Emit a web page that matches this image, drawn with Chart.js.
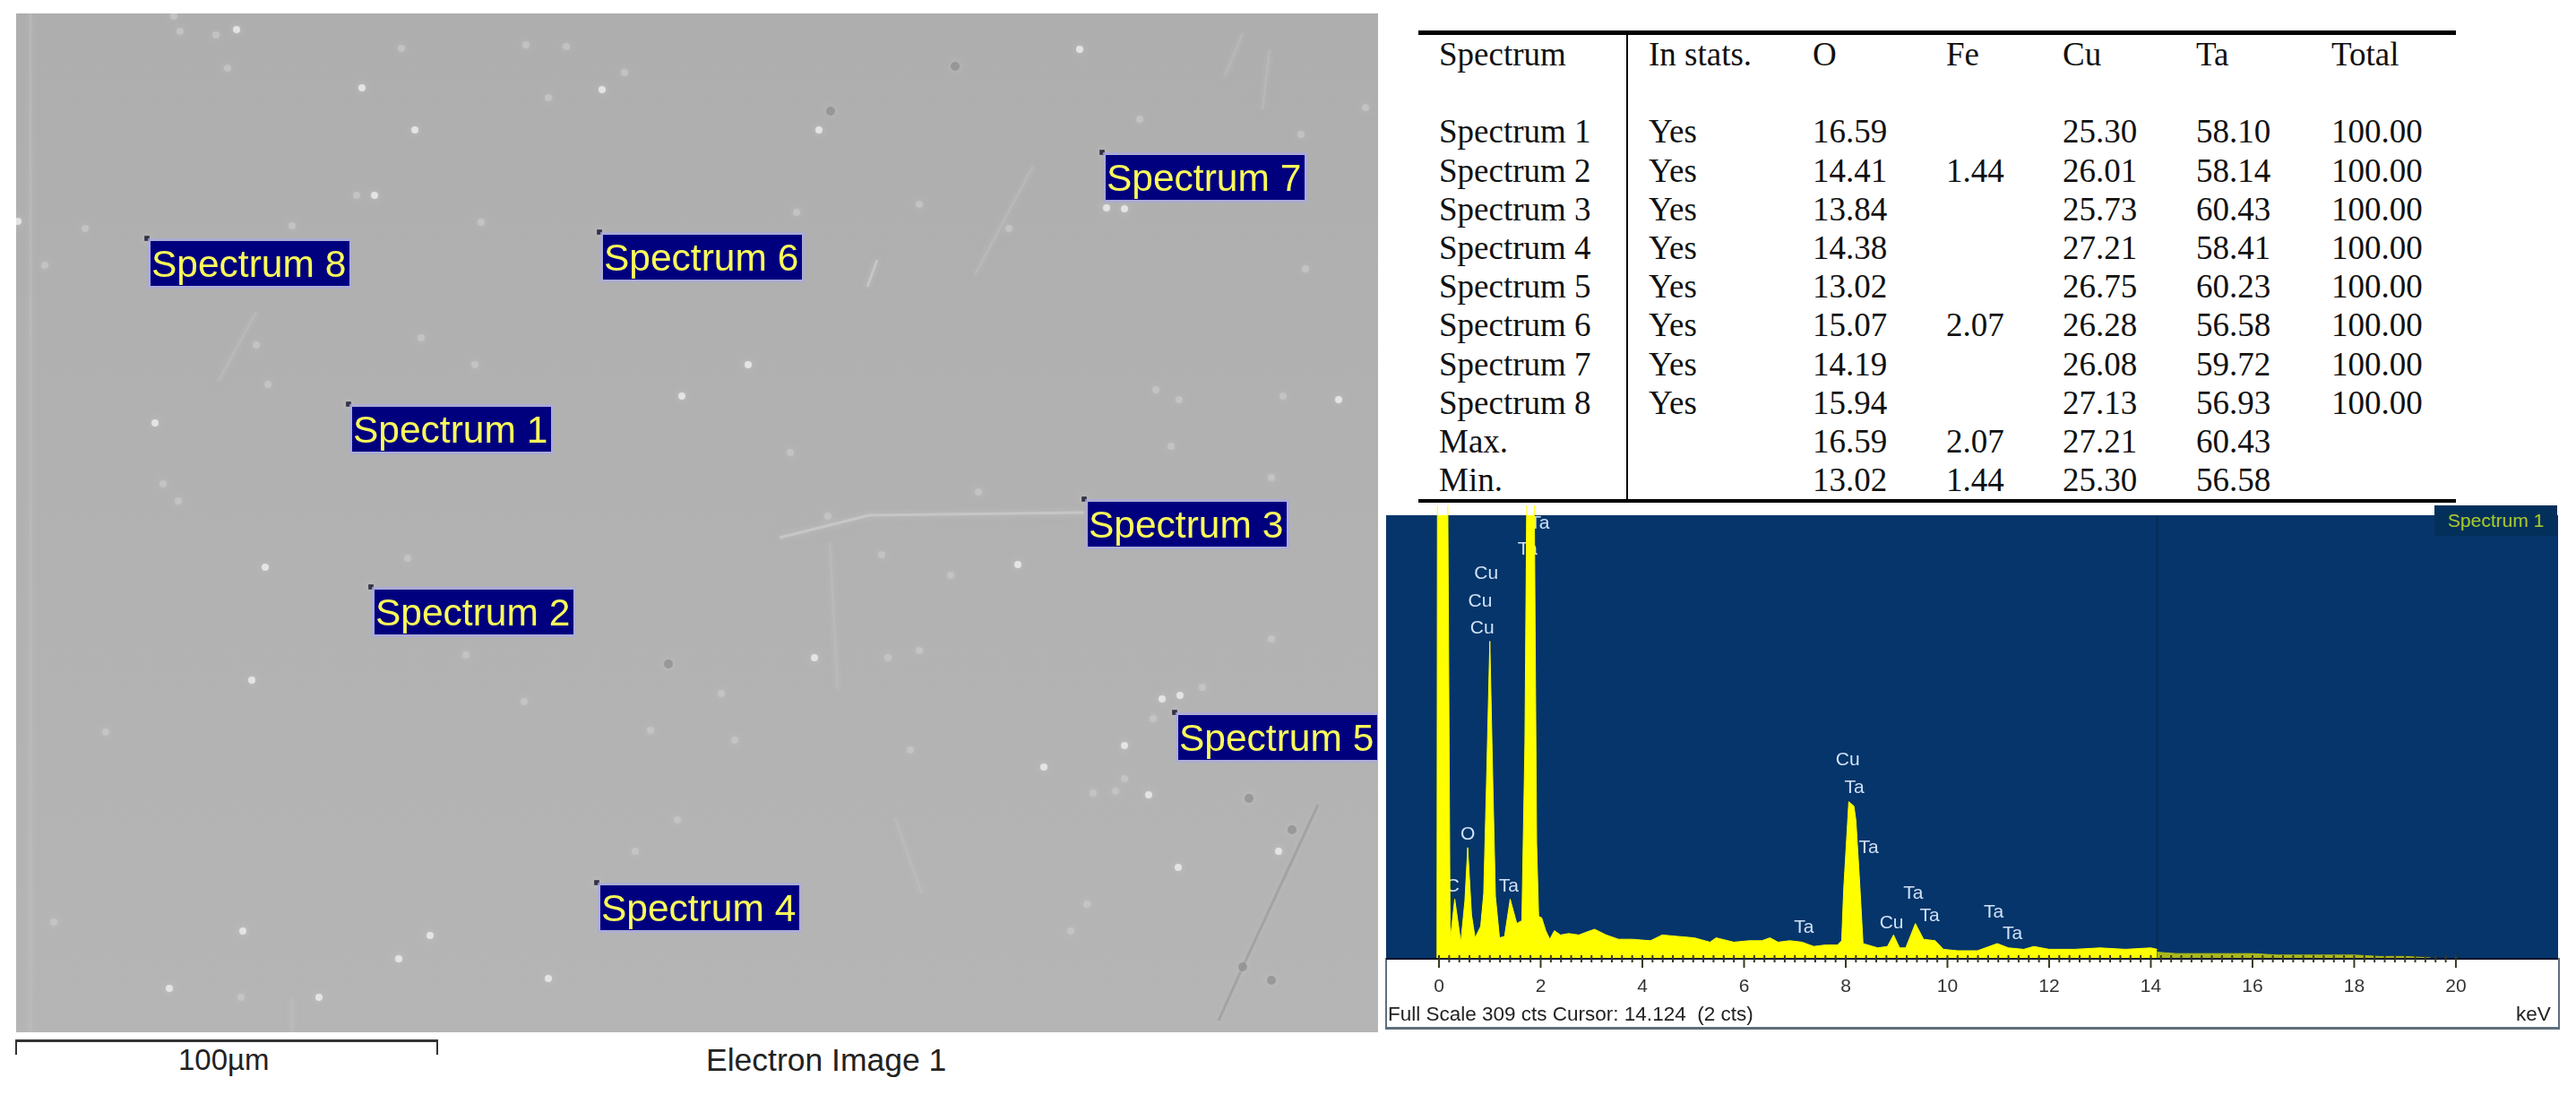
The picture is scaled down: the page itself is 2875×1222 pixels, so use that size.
<!DOCTYPE html>
<html>
<head>
<meta charset="utf-8">
<title>EDS spectrum</title>
<script src="https://cdn.jsdelivr.net/npm/chart.js@4"></script>
<style>
  html, body { margin: 0; padding: 0; background: #fff; }
  body { width: 2875px; height: 1222px; position: relative; overflow: hidden; font-family: "Liberation Sans", sans-serif; }
  .abs { position: absolute; }
  .txt { position: absolute; white-space: pre; color: #222; line-height: 1; }
  #imageWrap { left: 18px; top: 15px; width: 1520px; height: 1137px; }
  #specWrap { left: 1547px; top: 550px; width: 1308px; height: 600px; }
  #specFrame { left: 1546px; top: 1069px; width: 1307px; height: 77px; border: solid #5f6f7d; border-width: 0 2px 3px 2px; }
  #specTag { left: 2717px; top: 564px; width: 137px; height: 34px; background: #03305a; color: #a9c82a; font-size: 21px; line-height: 34px; text-align: center; }
  #dataTable { position: absolute; left: 1583px; top: 34px; width: 1158px; border-collapse: collapse; table-layout: fixed;
    font-family: "Liberation Serif", serif; font-size: 37px; color: #111; border-top: 5px solid #000; border-bottom: 4px solid #000; }
  #dataTable td { padding: 0; height: 43.2px; line-height: 43.2px; white-space: pre; }
  #dataTable td:first-child { padding-left: 23px; border-right: 2px solid #000; }
  #dataTable td:nth-child(2) { padding-left: 23px; }
</style>
</head>
<body>
<div class="abs" id="imageWrap"><canvas id="imageChart" width="1520" height="1137"></canvas></div>

<div class="abs" style="left:17px;top:1160px;width:468px;height:14px;border:solid #333;border-width:3px 2px 0 2px;"></div>
<div class="txt" style="left:199px;top:1166px;font-size:33px;">100µm</div>
<div class="txt" style="left:788px;top:1166px;font-size:35.5px;">Electron Image 1</div>

<table id="dataTable"></table>

<div class="abs" id="specFrame"></div>
<div class="abs" id="specWrap"><canvas id="specChart" width="1308" height="600"></canvas></div>
<div class="abs" id="specTag">Spectrum 1</div>
<div class="txt" style="left:1549px;top:1121px;font-size:22.5px;">Full Scale 309 cts Cursor: 14.124  (2 cts)</div>
<div class="txt" style="left:2808px;top:1121px;font-size:22.5px;">keV</div>

<script>
// composition table
const columnNames = ['Spectrum', 'In stats.', 'O', 'Fe', 'Cu', 'Ta', 'Total'];
const rowNames = ['Spectrum 1', 'Spectrum 2', 'Spectrum 3', 'Spectrum 4', 'Spectrum 5', 'Spectrum 6', 'Spectrum 7', 'Spectrum 8', 'Max.', 'Min.'];
const inStats = ['Yes', 'Yes', 'Yes', 'Yes', 'Yes', 'Yes', 'Yes', 'Yes', '', ''];
const oxygen = ['16.59', '14.41', '13.84', '14.38', '13.02', '15.07', '14.19', '15.94', '16.59', '13.02'];
const iron = ['', '1.44', '', '', '', '2.07', '', '', '2.07', '1.44'];
const copper = ['25.30', '26.01', '25.73', '27.21', '26.75', '26.28', '26.08', '27.13', '27.21', '25.30'];
const tantalum = ['58.10', '58.14', '60.43', '58.41', '60.23', '56.58', '59.72', '56.93', '60.43', '56.58'];
const totals = ['100.00', '100.00', '100.00', '100.00', '100.00', '100.00', '100.00', '100.00', '', ''];
const columnWidths = [233, 207, 149, 130, 149, 151, 139];

// spectrum trace (keV, counts), up to the cursor
const energy = [-0.04, -0.03, 0.17, 0.22, 0.31, 0.43, 0.51, 0.565, 0.64, 0.71, 0.82, 0.88, 0.94, 1.0, 1.06, 1.11, 1.19, 1.29, 1.4, 1.53, 1.63, 1.69, 1.73, 1.87, 1.92, 1.96, 2.02, 2.1, 2.18, 2.27, 2.39, 2.55, 2.75, 2.9, 3.06, 3.29, 3.53, 3.8, 4.16, 4.39, 4.7, 5.02, 5.33, 5.45, 5.8, 6.1, 6.35, 6.51, 6.67, 6.9, 7.14, 7.37, 7.6, 7.84, 7.92, 7.96, 8.06, 8.16, 8.2, 8.27, 8.34, 8.63, 8.82, 8.94, 9.06, 9.18, 9.37, 9.53, 9.76, 9.92, 10.2, 10.59, 10.98, 11.2, 11.5, 11.7, 12, 12.5, 13, 13.5, 14, 14.124];
const counts = [0, 340, 340, 12, 41, 11, 40, 77, 30, 14, 22, 45, 130, 221, 120, 43, 14, 15, 41, 24, 26, 150, 340, 340, 80, 29, 28, 19, 13, 19, 16, 17, 16, 18, 20, 16, 13, 13, 12, 16, 15, 14, 11, 14, 11, 12, 12, 14, 11, 12, 11, 8, 9, 9, 12, 48, 109, 106, 96, 55, 10, 7, 8, 16, 7, 7, 24, 13, 12, 6, 5, 5, 10, 7, 6, 8, 6, 6, 7, 6, 7, 6];
const tailEnergy = [14.124, 14.5, 15, 15.5, 16, 16.5, 17, 17.5, 18, 18.5, 19, 19.5];
const tailCounts = [4, 3, 3, 3, 3, 2, 2, 2, 2, 1, 1, 0];
const cursorEnergy = 14.124;
const xTickLabels = [0, 2, 4, 6, 8, 10, 12, 14, 16, 18, 20];
const ticksPerKev = 5;

// element labels on the peaks
const peakNames = ['Ta', 'Ta', 'Cu', 'Cu', 'Cu', 'O', 'C', 'Ta', 'Ta', 'Cu', 'Ta', 'Ta', 'Ta', 'Ta', 'Cu', 'Ta', 'Ta'];
const peakEnergy = [1.98, 1.74, 0.93, 0.81, 0.85, 0.565, 0.27, 1.37, 7.18, 8.04, 8.17, 8.45, 9.33, 9.65, 8.9, 10.91, 11.28];
const peakHeight = [303, 285, 268, 249, 230, 86, 50, 50, 21, 138, 119, 77, 45, 29, 24, 32, 17];

// micrograph, in picture pixels
const siteNames = ['Spectrum 1', 'Spectrum 2', 'Spectrum 3', 'Spectrum 4', 'Spectrum 5', 'Spectrum 6', 'Spectrum 7', 'Spectrum 8'];
const siteX = [389, 414, 1210, 666, 1311, 669, 1230, 164];
const siteY = [451, 655, 557, 985, 795, 259, 170, 266];
const brightX = [264, 463, 418, 20, 761, 173, 914, 835, 1235, 1255, 296, 281, 271, 480, 445, 189, 356, 612, 1136, 909, 1317, 1297, 1255, 1165, 1282, 1315, 1427, 1494, 404, 672, 1205];
const brightY = [33, 145, 218, 247, 442, 472, 145, 407, 232, 233, 633, 759, 1039, 1044, 1070, 1103, 1113, 1092, 630, 734, 776, 780, 832, 856, 887, 968, 950, 446, 98, 100, 55];
const speckX = [194, 201, 241, 254, 587, 632, 448, 398, 697, 612, 537, 95, 326, 50, 286, 530, 299, 182, 199, 470, 1272, 1524, 1452, 889, 1026, 1126, 1457, 1290, 1316, 1432, 882, 1307, 1419, 1092, 924, 455, 585, 520, 118, 756, 709, 726, 269, 60, 1061, 984, 1026, 991, 1419, 1342, 1287, 1016, 820, 805, 1255, 1220, 1245, 1213, 1195];
const speckY = [18, 35, 39, 76, 50, 52, 54, 218, 81, 109, 248, 255, 252, 296, 385, 407, 429, 540, 559, 377, 133, 120, 150, 237, 228, 255, 300, 435, 446, 442, 505, 498, 533, 549, 576, 623, 783, 731, 817, 915, 950, 815, 1113, 1029, 642, 619, 726, 734, 713, 767, 802, 837, 826, 774, 869, 885, 883, 1009, 1039];
const darkX = [1066, 927, 746, 1442, 1387, 1394, 1419];
const darkY = [74, 124, 741, 926, 1079, 891, 1094];
const brightScratches = [
  [[870, 600], [970, 575], [1210, 572]],
  [[979, 290], [968, 320]]
];
const faintScratches = [
  [[34, 15], [34, 1152]],
  [[1417, 55], [1409, 122]],
  [[1387, 37], [1367, 85]],
  [[286, 348], [244, 425]],
  [[999, 913], [1029, 998]],
  [[926, 605], [935, 770]],
  [[326, 1113], [326, 1152]],
  [[1153, 185], [1088, 307]]
];
const darkScratches = [
  [[1471, 898], [1387, 1079], [1360, 1139]]
];

// table
const table = document.getElementById('dataTable');
const colgroup = document.createElement('colgroup');
columnWidths.forEach(w => {
  const col = document.createElement('col');
  col.style.width = w + 'px';
  colgroup.appendChild(col);
});
table.appendChild(colgroup);

function addRow(cells) {
  const tr = document.createElement('tr');
  cells.forEach(text => {
    const td = document.createElement('td');
    td.textContent = text;
    tr.appendChild(td);
  });
  table.appendChild(tr);
}
addRow(columnNames);
addRow(columnNames.map(() => ''));
rowNames.forEach((name, i) => {
  addRow([name, inStats[i], oxygen[i], iron[i], copper[i], tantalum[i], totals[i]]);
});

function pairs(xs, ys) {
  return xs.map((x, i) => ({ x: x, y: ys[i] }));
}

function scratchSet(points, color, width) {
  return {
    data: points.map(p => ({ x: p[0], y: p[1] })),
    showLine: true,
    borderColor: color,
    borderWidth: width,
    pointRadius: 0
  };
}

const imagePlugin = {
  id: 'imagePlugin',
  beforeDatasetsDraw(chart) {
    const { ctx, chartArea } = chart;
    const shade = ctx.createLinearGradient(0, chartArea.top, 0, chartArea.bottom);
    shade.addColorStop(0, '#aeaeae');
    shade.addColorStop(1, '#b5b5b5');
    ctx.fillStyle = shade;
    ctx.fillRect(chartArea.left, chartArea.top, chartArea.width, chartArea.height);
    // the specks in the micrograph are soft, not crisp
    ctx.shadowColor = 'rgba(205,205,205,0.8)';
    ctx.shadowBlur = 7;
  },
  afterDatasetsDraw(chart) {
    const { ctx, scales } = chart;
    ctx.shadowBlur = 0;
    ctx.shadowColor = 'rgba(0,0,0,0)';
    ctx.save();
    ctx.font = '42.5px "Liberation Sans"';
    ctx.textBaseline = 'middle';
    siteNames.forEach((name, i) => {
      const px = scales.x.getPixelForValue(siteX[i]) + 4;
      const py = scales.y.getPixelForValue(siteY[i]) + 3;
      ctx.fillStyle = 'rgba(170,170,225,0.75)';
      ctx.fillRect(px - 3, py - 3, 228, 56);
      ctx.fillStyle = '#00007f';
      ctx.fillRect(px, py, 222, 50);
      ctx.fillStyle = '#fbfb5a';
      ctx.fillText(name, px + 1, py + 28);
    });
    ctx.restore();
  }
};

new Chart(document.getElementById('imageChart'), {
  type: 'scatter',
  plugins: [imagePlugin],
  data: {
    datasets: [
      { data: pairs(siteX, siteY), pointStyle: 'rect', pointRadius: 4, backgroundColor: '#333344', borderWidth: 0 },
      { data: pairs(brightX, brightY), pointRadius: 4, backgroundColor: 'rgba(235,235,235,0.85)', borderWidth: 0 },
      { data: pairs(speckX, speckY), pointRadius: 4, backgroundColor: 'rgba(205,205,205,0.55)', borderWidth: 0 },
      { data: pairs(darkX, darkY), pointRadius: 5, backgroundColor: 'rgba(130,130,130,0.6)', borderWidth: 0 },
      ...brightScratches.map(s => scratchSet(s, 'rgba(205,205,205,0.7)', 3)),
      ...faintScratches.map(s => scratchSet(s, 'rgba(190,190,190,0.45)', 3)),
      ...darkScratches.map(s => scratchSet(s, 'rgba(140,140,140,0.45)', 3))
    ]
  },
  options: {
    responsive: false,
    animation: false,
    layout: { autoPadding: false },
    plugins: { legend: { display: false }, tooltip: { enabled: false } },
    scales: {
      x: { display: false, min: 18, max: 1538 },
      y: { display: false, min: 15, max: 1152, reverse: true }
    }
  }
});

const spectrumPlugin = {
  id: 'spectrumPlugin',
  beforeDatasetsDraw(chart) {
    const { ctx, chartArea, scales } = chart;
    ctx.save();
    ctx.fillStyle = '#05356a';
    ctx.fillRect(chartArea.left, chartArea.top, chartArea.width, chartArea.height);
    ctx.font = '21px "Liberation Sans"';
    ctx.textAlign = 'center';
    ctx.textBaseline = 'middle';
    ctx.fillStyle = '#cfe0f6';
    peakNames.forEach((name, i) => {
      ctx.fillText(name, scales.x.getPixelForValue(peakEnergy[i]), scales.y.getPixelForValue(peakHeight[i]));
    });
    ctx.restore();
  },
  afterDraw(chart) {
    // tick marks bite into the baseline; the labelled ones are longer
    const { ctx, chartArea, scales } = chart;
    ctx.save();
    ctx.strokeStyle = '#3a3a20';
    ctx.lineWidth = 2;
    scales.x.ticks.forEach(tick => {
      const major = xTickLabels.includes(Math.round(tick.value)) && Math.abs(tick.value - Math.round(tick.value)) < 0.01;
      const px = scales.x.getPixelForValue(tick.value);
      ctx.beginPath();
      ctx.moveTo(px, chartArea.bottom - 3);
      ctx.lineTo(px, chartArea.bottom + (major ? 11 : 5));
      ctx.stroke();
    });
    ctx.restore();
  }
};

new Chart(document.getElementById('specChart'), {
  type: 'scatter',
  plugins: [spectrumPlugin],
  data: {
    datasets: [
      {
        data: pairs(energy, counts), showLine: true, fill: 'origin', order: 1,
        borderColor: '#ffff00', backgroundColor: '#ffff00', borderWidth: 1, pointRadius: 0,
        clip: { left: 0, top: 11, right: 0, bottom: 0 }
      },
      {
        data: pairs(tailEnergy, tailCounts), showLine: true, fill: 'origin', order: 2,
        borderColor: '#a9b81c', backgroundColor: '#a9b81c', borderWidth: 1, pointRadius: 0
      },
      {
        data: pairs([cursorEnergy, cursorEnergy], [0, 309]), showLine: true, order: 3,
        borderColor: '#0a2c55', borderWidth: 2, pointRadius: 0
      }
    ]
  },
  options: {
    responsive: false,
    animation: false,
    layout: { autoPadding: false, padding: { top: 25, left: 0, right: 0, bottom: 0 } },
    plugins: { legend: { display: false }, tooltip: { enabled: false } },
    scales: {
      x: {
        min: -1.04,
        max: 22.01,
        afterBuildTicks(axis) {
          const list = [];
          const last = xTickLabels[xTickLabels.length - 1] * ticksPerKev;
          for (let n = 0; n <= last; n++) {
            list.push({ value: n / ticksPerKev });
          }
          axis.ticks = list;
        },
        afterFit(scale) {
          scale.height = 81;
          scale.paddingLeft = 0;
          scale.paddingRight = 0;
        },
        border: { display: true, color: '#05122b', width: 3 },
        grid: { drawOnChartArea: false, drawTicks: false },
        ticks: {
          autoSkip: false,
          maxRotation: 0,
          padding: 20,
          color: '#333',
          font: { family: '"Liberation Sans"', size: 21 },
          callback: value => {
            const n = Math.round(value);
            return Math.abs(value - n) < 0.01 && xTickLabels.includes(n) ? String(n) : '';
          }
        }
      },
      y: { display: false, min: 0, max: 309 }
    }
  }
});
</script>
</body>
</html>
